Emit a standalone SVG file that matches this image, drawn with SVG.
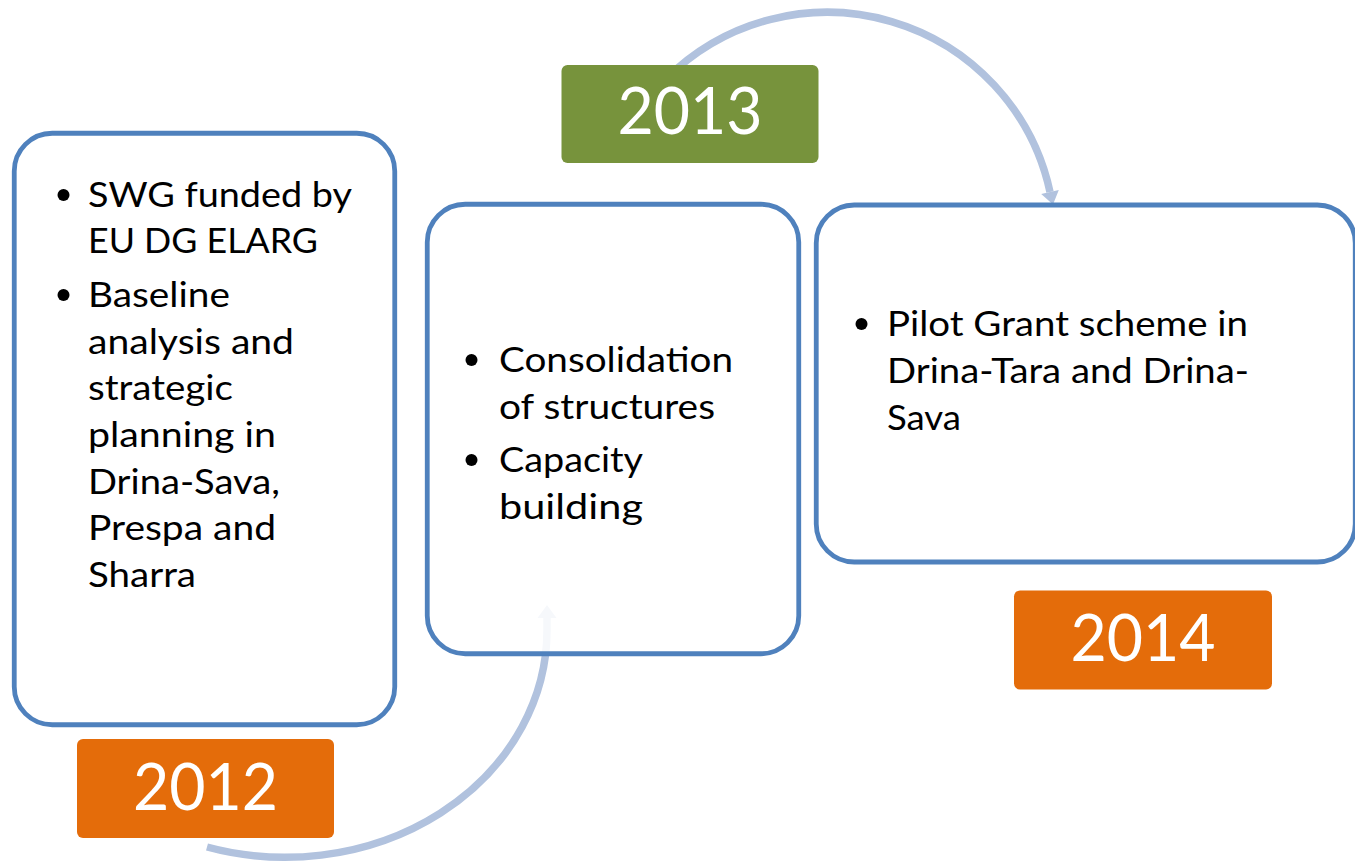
<svg xmlns="http://www.w3.org/2000/svg" width="1355" height="868" viewBox="0 0 1355 868">
  <style>
    .box { fill: #ffffff; fill-opacity: 0.88; stroke: #4f81bd; stroke-width: 4.8; }
    .txt { font-family: Lato, "Liberation Sans", sans-serif; font-size: 35px; fill: #000000; }
    .bul { fill: #000000; }
    .yr { font-family: Lato, "Liberation Sans", sans-serif; font-size: 65px; fill: #ffffff; text-anchor: middle; }
    .orange { fill: #e46c0a; }
    .green { fill: #77933c; }
    .arc { fill: none; stroke: #b1c2de; stroke-width: 7.5; }
    .head { fill: #b1c2de; }
  </style>
  <rect width="1355" height="868" fill="#ffffff"/>

  <g id="connectors">
    <path class="arc" d="M 207 847 A 262 227 0 0 0 547 630 L 547 617"/>
    <polygon class="head" points="537.5,618 556.5,618 547,605"/>
    <path class="arc" d="M 666 79 A 228 228 0 0 1 1050 192"/>
    <polygon class="head" points="1041.2,193.9 1058.8,190.1 1053,204.5"/>
  </g>

  <g id="node-2012">
    <rect class="box" x="14.25" y="133.25" width="380.5" height="591.5" rx="38"/>
    <circle class="bul" cx="63.5" cy="195" r="6"/>
    <text class="txt" x="88" y="207" textLength="264" lengthAdjust="spacingAndGlyphs">SWG funded by</text>
    <text class="txt" x="88" y="253" textLength="230" lengthAdjust="spacingAndGlyphs">EU DG ELARG</text>
    <circle class="bul" cx="63.5" cy="295" r="6"/>
    <text class="txt" x="88" y="307" textLength="142" lengthAdjust="spacingAndGlyphs">Baseline</text>
    <text class="txt" x="88" y="354" textLength="206" lengthAdjust="spacingAndGlyphs">analysis and</text>
    <text class="txt" x="88" y="400" textLength="145" lengthAdjust="spacingAndGlyphs">strategic</text>
    <text class="txt" x="88" y="447" textLength="188" lengthAdjust="spacingAndGlyphs">planning in</text>
    <text class="txt" x="88" y="494" textLength="192" lengthAdjust="spacingAndGlyphs">Drina-Sava,</text>
    <text class="txt" x="88" y="540" textLength="188" lengthAdjust="spacingAndGlyphs">Prespa and</text>
    <text class="txt" x="88" y="587" textLength="108" lengthAdjust="spacingAndGlyphs">Sharra</text>
  </g>
  <g id="label-2012">
    <rect class="orange" x="77" y="739" width="257" height="99" rx="6"/>
    <text class="yr" x="205.5" y="810" textLength="145" lengthAdjust="spacingAndGlyphs">2012</text>
  </g>

  <g id="node-2013">
    <rect class="box" x="427.25" y="204.25" width="371.5" height="449.5" rx="38"/>
    <circle class="bul" cx="471.5" cy="360" r="6"/>
    <text class="txt" x="499" y="372" textLength="234" lengthAdjust="spacingAndGlyphs">Consolidation</text>
    <text class="txt" x="499" y="419" textLength="216" lengthAdjust="spacingAndGlyphs">of structures</text>
    <circle class="bul" cx="471.5" cy="460" r="6"/>
    <text class="txt" x="499" y="472" textLength="144" lengthAdjust="spacingAndGlyphs">Capacity</text>
    <text class="txt" x="499" y="519" textLength="144" lengthAdjust="spacingAndGlyphs">building</text>
  </g>
  <g id="label-2013">
    <rect class="green" x="561.5" y="65" width="257" height="98" rx="6"/>
    <text class="yr" x="690" y="134" textLength="145" lengthAdjust="spacingAndGlyphs">2013</text>
  </g>

  <g id="node-2014">
    <rect class="box" x="816.25" y="205" width="539" height="357" rx="38"/>
    <circle class="bul" cx="861.5" cy="324" r="6"/>
    <text class="txt" x="887" y="336" textLength="361" lengthAdjust="spacingAndGlyphs">Pilot Grant scheme in</text>
    <text class="txt" x="887" y="383" textLength="362" lengthAdjust="spacingAndGlyphs">Drina-Tara and Drina-</text>
    <text class="txt" x="887" y="430" textLength="74" lengthAdjust="spacingAndGlyphs">Sava</text>
  </g>
  <g id="label-2014">
    <rect class="orange" x="1014" y="590.5" width="258" height="99" rx="6"/>
    <text class="yr" x="1143" y="661" textLength="145" lengthAdjust="spacingAndGlyphs">2014</text>
  </g>
</svg>
